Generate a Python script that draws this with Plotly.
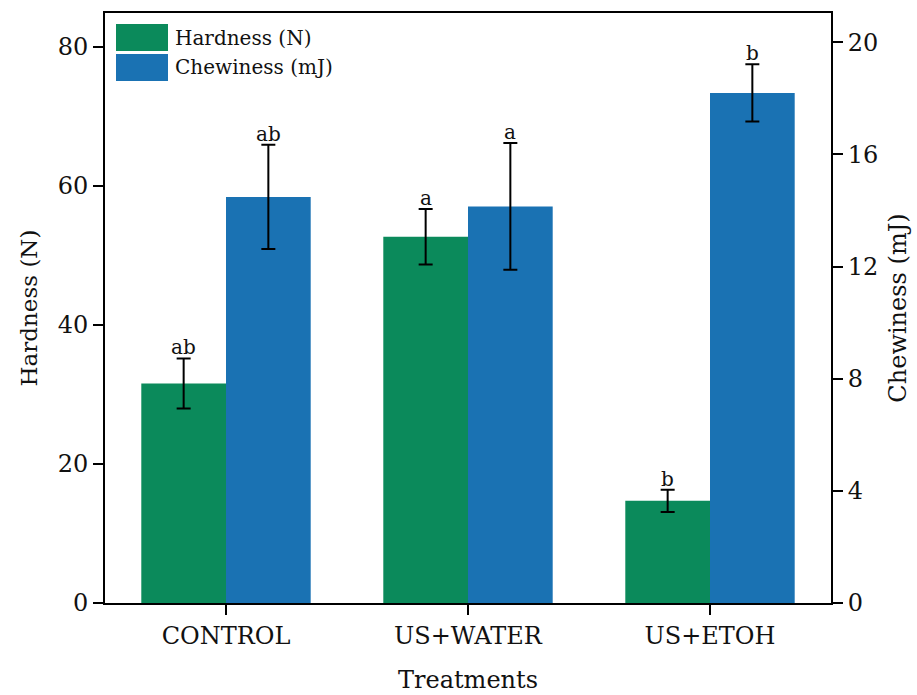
import plotly.graph_objects as go

treatments = ["CONTROL", "US+WATER", "US+ETOH"]
hardness = [31.6, 52.7, 14.7]
hardness_err = [3.6, 4.0, 1.6]
hardness_letters = ["ab", "a", "b"]
chewiness = [14.48, 14.14, 18.19]
chewiness_err = [1.86, 2.26, 1.02]
chewiness_letters = ["ab", "a", "b"]

GREEN = "#0B8A5B"
BLUE = "#1A72B3"
FONT = "DejaVu Serif"

fig = go.Figure()
fig.add_trace(go.Bar(
    x=treatments, y=hardness, name="Hardness (N)", marker_color=GREEN,
    marker_line_width=0, offsetgroup="h", yaxis="y",
    error_y=dict(type="data", array=hardness_err, color="black", thickness=2, width=7),
    showlegend=False,
))
fig.add_trace(go.Bar(
    x=treatments, y=chewiness, name="Chewiness (mJ)", marker_color=BLUE,
    marker_line_width=0, offsetgroup="c", yaxis="y2",
    error_y=dict(type="data", array=chewiness_err, color="black", thickness=2, width=7),
    showlegend=False,
))

annotations = []
half = 0.175
for i in range(len(treatments)):
    annotations.append(dict(
        x=i - half, y=hardness[i] + hardness_err[i], xref="x", yref="y",
        text=hardness_letters[i], showarrow=False, yanchor="bottom", yshift=-3,
        font=dict(family=FONT, size=20, color="#111"),
    ))
    annotations.append(dict(
        x=i + half, y=chewiness[i] + chewiness_err[i], xref="x", yref="y2",
        text=chewiness_letters[i], showarrow=False, yanchor="bottom", yshift=-3,
        font=dict(family=FONT, size=20, color="#111"),
    ))

# legend drawn as swatches with labels in the upper-left corner
shapes = []
for k, (col, label) in enumerate([(GREEN, "Hardness (N)"), (BLUE, "Chewiness (mJ)")]):
    y0 = 1 - (11 + k * 30) / 590
    y1 = 1 - (38 + k * 30) / 590
    shapes.append(dict(type="rect", xref="paper", yref="paper",
                       x0=11 / 726, x1=63 / 726, y0=y1, y1=y0,
                       fillcolor=col, line=dict(width=0)))
    annotations.append(dict(
        x=68 / 726, y=(y0 + y1) / 2, xref="paper", yref="paper", text=label,
        showarrow=False, xanchor="left", yanchor="middle",
        font=dict(family=FONT, size=20, color="#111"),
    ))

axis_common = dict(
    showline=True, linecolor="black", linewidth=2, ticks="outside",
    tickcolor="black", tickwidth=2, ticklen=10, showgrid=False, zeroline=False,
    tickfont=dict(family=FONT, size=24, color="#111"), automargin=False,
)

fig.update_layout(
    width=917, height=695,
    margin=dict(l=105, r=86, t=13, b=92),
    paper_bgcolor="white", plot_bgcolor="white",
    barmode="group", bargap=0.3, bargroupgap=0,
    font=dict(family=FONT, color="#111"),
    xaxis=dict(**axis_common, range=[-0.5, 2.5], mirror=True,
               title=dict(text="Treatments", font=dict(family=FONT, size=24), standoff=22)),
    yaxis=dict(**axis_common, range=[0, 84.9], tickvals=[0, 20, 40, 60, 80],
               title=dict(text="Hardness (N)", font=dict(family=FONT, size=23), standoff=14)),
    yaxis2=dict(**axis_common, range=[0, 21.04], tickvals=[0, 4, 8, 12, 16, 20],
                overlaying="y", side="right",
                title=dict(text="Chewiness (mJ)", font=dict(family=FONT, size=24), standoff=12)),
    annotations=annotations, shapes=shapes,
)

fig.write_html("out.html")
